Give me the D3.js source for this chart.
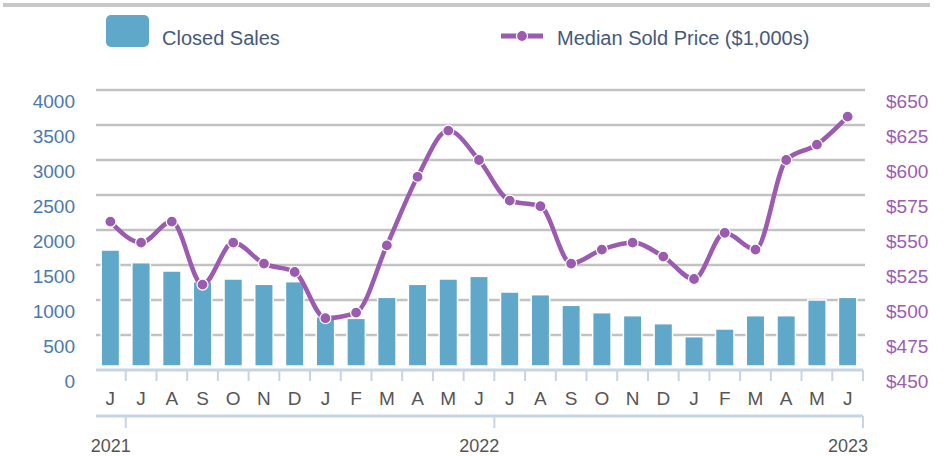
<!DOCTYPE html>
<html>
<head>
<meta charset="utf-8">
<style>
body {
    margin: 0;
    background: #fff;
    font-family: "Liberation Sans", Arial, Helvetica, sans-serif;
}
svg text {
    font-family: "Liberation Sans", Arial, Helvetica, sans-serif;
}
</style>
</head>
<body>
<script src="https://cdnjs.cloudflare.com/ajax/libs/d3/7.8.5/d3.min.js"></script>
<script>
// months Jun 2021 .. Jun 2023
var months = ["J","J","A","S","O","N","D","J","F","M","A","M","J","J","A","S","O","N","D","J","F","M","A","M","J"];
var closedSales = [1714, 1533, 1414, 1262, 1300, 1224, 1262, 760, 738, 1038, 1224, 1300, 1338,
                   1114, 1076, 924, 819, 776, 662, 476, 586, 776, 776, 1000, 1038];
var medianPrice = [556, 541, 556, 511, 541, 526, 520, 487, 491, 539, 588, 621, 600,
                   571, 567, 526, 536, 541, 531, 515, 548, 536, 600, 611, 631];
var salesTicks = [0, 500, 1000, 1500, 2000, 2500, 3000, 3500, 4000];
var priceTicks = [450, 475, 500, 525, 550, 575, 600, 625, 650];
// year marks sit after the index given (end of June)
var yearMarks = [{label: "2021", after: 0}, {label: "2022", after: 12}, {label: "2023", after: 24}];

var W = 945, H = 456;
var margin = {left: 96, right: 80, top: 90, bottom: 86};
var plotRight = W - margin.right;   // 865
var baseY = H - margin.bottom;      // 370

var svg = d3.select("body").append("svg")
    .attr("width", W)
    .attr("height", H);

// top rule
svg.append("rect")
    .attr("x", 3).attr("y", 3)
    .attr("width", 927).attr("height", 4)
    .attr("fill", "#c8c8c8");

var x = d3.scaleBand()
    .domain(d3.range(months.length))
    .range([95, 863])
    .paddingInner(0.4)
    .paddingOuter(0.2);
var xb = d3.scaleBand()
    .domain(d3.range(months.length))
    .range([95, 863]);

var ySales = d3.scaleLinear().domain([0, 4000]).range([baseY, margin.top]);
var yPrice = d3.scaleLinear().domain([450, 650]).range([baseY, margin.top]);

// gridlines
svg.append("g")
    .selectAll("line")
    .data(salesTicks.slice(1))
    .enter().append("line")
    .attr("x1", margin.left)
    .attr("x2", plotRight)
    .attr("y1", function(d) { return ySales(d); })
    .attr("y2", function(d) { return ySales(d); })
    .attr("stroke", "#c2c2c2")
    .attr("stroke-width", 2.5);

// bars
svg.append("g")
    .selectAll("rect")
    .data(closedSales)
    .enter().append("rect")
    .attr("x", function(d, i) { return x(i); })
    .attr("width", x.bandwidth())
    .attr("y", function(d) { return ySales(d); })
    .attr("height", function(d) { return ySales(0) - ySales(d) - 4; })
    .attr("fill", "#5fa8c9")
    .attr("stroke", "#ffffff")
    .attr("stroke-width", 1.5);

// left axis labels
svg.append("g")
    .selectAll("text")
    .data(salesTicks)
    .enter().append("text")
    .attr("x", 75)
    .attr("y", function(d) { return ySales(d) + 11; })
    .attr("dy", "0.35em")
    .attr("text-anchor", "end")
    .attr("font-size", "19px")
    .attr("fill", "#4a78b0")
    .text(function(d) { return d; });

// right axis labels
svg.append("g")
    .selectAll("text")
    .data(priceTicks)
    .enter().append("text")
    .attr("x", 886)
    .attr("y", function(d) { return yPrice(d) + 11; })
    .attr("dy", "0.35em")
    .attr("text-anchor", "start")
    .attr("font-size", "19px")
    .attr("fill", "#9c5cb4")
    .text(function(d) { return "$" + d; });

// month axis
var axisColor = "#c6d4e4";
svg.append("line")
    .attr("x1", margin.left).attr("x2", 863)
    .attr("y1", baseY).attr("y2", baseY)
    .attr("stroke", axisColor).attr("stroke-width", 3);
svg.append("g")
    .selectAll("line")
    .data(d3.range(1, months.length + 1))
    .enter().append("line")
    .attr("x1", function(i) { return i < months.length ? xb(i) : 863; })
    .attr("x2", function(i) { return i < months.length ? xb(i) : 863; })
    .attr("y1", baseY).attr("y2", baseY + 11)
    .attr("stroke", axisColor).attr("stroke-width", 2);
svg.append("g")
    .selectAll("text")
    .data(months)
    .enter().append("text")
    .attr("x", function(d, i) { return x(i) + x.bandwidth() / 2; })
    .attr("y", 398)
    .attr("dy", "0.35em")
    .attr("text-anchor", "middle")
    .attr("font-size", "19px")
    .attr("fill", "#555555")
    .text(function(d) { return d; });

// year axis
var yearY = 416;
svg.append("line")
    .attr("x1", margin.left).attr("x2", 863)
    .attr("y1", yearY).attr("y2", yearY)
    .attr("stroke", axisColor).attr("stroke-width", 3);
function yearX(m) { return m.after + 1 < months.length ? xb(m.after + 1) : 863; }
svg.append("g")
    .selectAll("line")
    .data(yearMarks)
    .enter().append("line")
    .attr("x1", yearX).attr("x2", yearX)
    .attr("y1", yearY).attr("y2", yearY + 12)
    .attr("stroke", axisColor).attr("stroke-width", 2);
svg.append("g")
    .selectAll("text")
    .data(yearMarks)
    .enter().append("text")
    .attr("x", function(m) { return yearX(m) + 5; })
    .attr("y", 446)
    .attr("dy", "0.35em")
    .attr("text-anchor", "end")
    .attr("font-size", "18px")
    .attr("fill", "#555555")
    .text(function(m) { return m.label; });

// price line
var purple = "#9a5bb0";
var line = d3.line()
    .x(function(d, i) { return x(i) + x.bandwidth() / 2; })
    .y(function(d) { return yPrice(d); })
    .curve(d3.curveMonotoneX);
svg.append("path")
    .datum(medianPrice)
    .attr("d", line)
    .attr("fill", "none")
    .attr("stroke", purple)
    .attr("stroke-width", 4.5)
    .attr("stroke-linejoin", "round");
svg.append("g")
    .selectAll("circle")
    .data(medianPrice)
    .enter().append("circle")
    .attr("cx", function(d, i) { return x(i) + x.bandwidth() / 2; })
    .attr("cy", function(d) { return yPrice(d); })
    .attr("r", 5.5)
    .attr("fill", purple)
    .attr("stroke", "#ffffff")
    .attr("stroke-width", 1.2);

// legend
var legend = svg.append("g");
legend.append("rect")
    .attr("x", 106).attr("y", 15)
    .attr("width", 43).attr("height", 32)
    .attr("rx", 5)
    .attr("fill", "#5fa8c9");
legend.append("text")
    .attr("x", 162).attr("y", 38)
    .attr("dy", "0.35em")
    .attr("font-size", "20px")
    .attr("fill", "#45597a")
    .text("Closed Sales");
legend.append("line")
    .attr("x1", 501).attr("x2", 543)
    .attr("y1", 36).attr("y2", 36)
    .attr("stroke", purple).attr("stroke-width", 5);
legend.append("circle")
    .attr("cx", 522).attr("cy", 36).attr("r", 5.5)
    .attr("fill", purple)
    .attr("stroke", "#ffffff").attr("stroke-width", 1.2);
legend.append("text")
    .attr("x", 557).attr("y", 38)
    .attr("dy", "0.35em")
    .attr("font-size", "20px")
    .attr("fill", "#45597a")
    .text("Median Sold Price ($1,000s)");
</script>
</body>
</html>
